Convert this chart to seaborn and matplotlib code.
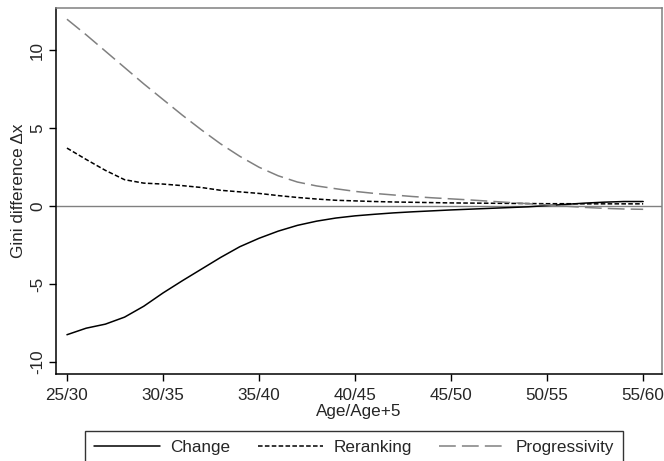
import matplotlib
matplotlib.use("Agg")
import matplotlib.pyplot as plt
from matplotlib.lines import Line2D
import pandas as pd
import seaborn as sns

ages = list(range(25, 56))
change = [-8.25, -7.83, -7.57, -7.12, -6.42, -5.57, -4.79, -4.04, -3.29, -2.6,
          -2.06, -1.6, -1.23, -0.96, -0.76, -0.62, -0.52, -0.43, -0.36, -0.3,
          -0.24, -0.19, -0.14, -0.09, -0.04, 0.04, 0.12, 0.2, 0.26, 0.3, 0.3]
reranking = [3.73, 3.0, 2.3, 1.7, 1.48, 1.42, 1.32, 1.2, 1.02, 0.92,
             0.82, 0.68, 0.56, 0.46, 0.38, 0.34, 0.3, 0.27, 0.25, 0.23,
             0.21, 0.2, 0.19, 0.18, 0.17, 0.16, 0.16, 0.15, 0.15, 0.15, 0.15]
progressivity = [12.0, 11.0, 9.95, 8.9, 7.85, 6.85, 5.85, 4.9, 4.0, 3.2,
                 2.5, 1.95, 1.55, 1.3, 1.12, 0.95, 0.82, 0.72, 0.62, 0.54,
                 0.47, 0.4, 0.32, 0.24, 0.16, 0.08, 0.0, -0.08, -0.14, -0.18, -0.2]
tick_ages = [25, 30, 35, 40, 45, 50, 55]
tick_labels = [f"{a}/{a+5}" for a in tick_ages]

df = pd.DataFrame({"Age": ages, "Change": change, "Reranking": reranking,
                   "Progressivity": progressivity})
long = df.melt(id_vars="Age", var_name="Series", value_name="Value")

sns.set_style("ticks")
plt.rcParams["font.family"] = ["Liberation Sans", "DejaVu Sans"]
fs = 12.3

fig = plt.figure(figsize=(6.64, 4.61), dpi=100)
ax = fig.add_axes([56/664, 1-374/461, (662-56)/664, (374-8)/461])

ax.axhline(0, color="#808080", lw=1.0, zorder=1)
sns.lineplot(data=long, x="Age", y="Value", hue="Series", style="Series",
             palette={"Change": "black", "Reranking": "black", "Progressivity": "#808080"},
             dashes={"Change": "", "Reranking": (3, 1.5), "Progressivity": (11, 4)},
             lw=1.1, ax=ax, legend=False)

ax.set_xlim(24.43, 55.98)
ax.set_ylim(-10.77, 12.72)
ax.set_xticks(tick_ages)
ax.set_xticklabels(tick_labels)
ax.set_yticks([-10, -5, 0, 5, 10])
ax.set_yticklabels(["-10", "-5", "0", "5", "10"], rotation=90, va="center")
ax.tick_params(axis="both", labelsize=fs, length=5, width=1, color="black", direction="out")
ax.tick_params(axis="x", pad=5)
ax.tick_params(axis="y", pad=3)
ax.set_xlabel("Age/Age+5", fontsize=fs, labelpad=1)
ax.set_ylabel("Gini difference Δx", fontsize=fs, labelpad=3)

for s in ["left", "bottom"]:
    ax.spines[s].set_color("black")
    ax.spines[s].set_linewidth(1.1)
for s in ["top", "right"]:
    ax.spines[s].set_visible(True)
    ax.spines[s].set_color("#808080")
    ax.spines[s].set_linewidth(1.1)

handles = [Line2D([], [], color="black", lw=1.1),
           Line2D([], [], color="black", lw=1.1, dashes=(3, 1.5)),
           Line2D([], [], color="#808080", lw=1.1, dashes=(11, 4))]
leg = fig.legend(handles, ["Change", "Reranking", "Progressivity"],
                 loc="upper center", bbox_to_anchor=(354/664, 1-431/461), ncol=3,
                 fontsize=fs, handlelength=3.85, handletextpad=0.6, columnspacing=1.6,
                 frameon=True, fancybox=False, edgecolor="black", borderpad=0.55,
                 borderaxespad=0)
leg.get_frame().set_linewidth(1.0)

fig.savefig("out.png", dpi=100)
